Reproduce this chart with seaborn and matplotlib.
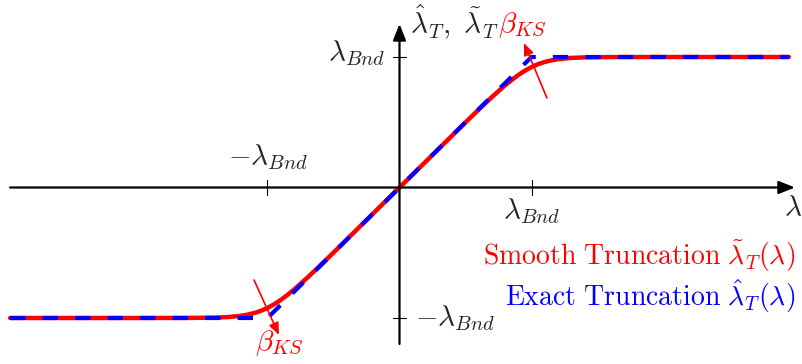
import matplotlib
matplotlib.use("Agg")
import matplotlib.pyplot as plt
import seaborn as sns
import pandas as pd

# Exact truncation: clipped to [-lambda_Bnd, lambda_Bnd]
lam_exact = [-2.95, -1.0, 1.0, 2.95]
trunc_exact = [-1.0, -1.0, 1.0, 1.0]

# Smooth (KS) truncation samples
lam_smooth = [-2.95, -2.0, -1.6, -1.4, -1.3, -1.2, -1.15, -1.1, -1.05, -1.0,
              -0.95, -0.9, -0.85, -0.8, -0.7, -0.6, -0.5, 0.0,
              0.5, 0.6, 0.7, 0.8, 0.85, 0.9, 0.95, 1.0,
              1.05, 1.1, 1.15, 1.2, 1.3, 1.4, 1.6, 2.0, 2.95]
trunc_smooth = [-1.0, -1.0, -0.9995, -0.997, -0.993, -0.983, -0.974, -0.962, -0.945, -0.923,
                -0.895, -0.862, -0.824, -0.783, -0.693, -0.597, -0.499, 0.0,
                0.499, 0.597, 0.693, 0.783, 0.824, 0.862, 0.895, 0.923,
                0.945, 0.962, 0.974, 0.983, 0.993, 0.997, 0.9995, 1.0, 1.0]

tick_vals = [-1.0, 1.0]

sns.set_style("white")
plt.rcParams["mathtext.fontset"] = "cm"
plt.rcParams["font.family"] = ["DejaVu Serif"]

fig = plt.figure(figsize=(8.03, 3.64), dpi=100)
ax = fig.add_axes([0, 0, 1, 1])
ax.set_xlim(-3.0265, 3.0568)
ax.set_ylim(-1.3525, 1.4368)
ax.axis("off")

RED = "#ff0000"
BLUE = "#0000ff"
FS = 20
FS_TICK = 21

# coordinate axes with arrow heads
arrow_kw = dict(arrowstyle="-|>,head_length=0.7,head_width=0.28", color="black",
                lw=1.6, shrinkA=0, shrinkB=0, mutation_scale=14)
ax.annotate("", xy=(2.996, 0), xytext=(-2.95, 0), arrowprops=arrow_kw)
ax.annotate("", xy=(0, 1.253), xytext=(0, -1.199), arrowprops=arrow_kw)

# ticks
for t in tick_vals:
    ax.plot([t, t], [-0.054, 0.054], color="black", lw=0.8)
    ax.plot([-0.053, 0.053], [t, t], color="black", lw=0.8)

df_s = pd.DataFrame({"lam": lam_smooth, "val": trunc_smooth})
df_e = pd.DataFrame({"lam": lam_exact, "val": trunc_exact})
sns.lineplot(data=df_s, x="lam", y="val", ax=ax, color=RED, lw=3.2,
             sort=False, estimator=None)
sns.lineplot(data=df_e, x="lam", y="val", ax=ax, color=BLUE, lw=3.0,
             sort=False, estimator=None, linestyle=(0, (3.7, 4.1)))

# tick labels
ax.text(-1.0, 0.234, r"$-\lambda_{Bnd}$", ha="center", va="center", fontsize=FS_TICK)
ax.text(1.0, -0.18, r"$\lambda_{Bnd}$", ha="center", va="center", fontsize=FS_TICK)
ax.text(2.98, -0.16, r"$\lambda$", ha="center", va="center", fontsize=FS_TICK)
ax.text(-0.11, 1.03, r"$\lambda_{Bnd}$", ha="right", va="center", fontsize=FS_TICK)
ax.text(0.117, -1.0, r"$-\lambda_{Bnd}$", ha="left", va="center", fontsize=FS_TICK)
ax.text(0.08, 1.415, r"$\hat{\lambda}_T,\ \tilde{\lambda}_T$", ha="left", va="top",
        fontsize=FS_TICK)

# beta_KS markers
small_arrow = dict(arrowstyle="-|>,head_length=0.6,head_width=0.25", color=RED,
                   lw=1.2, shrinkA=0, shrinkB=0, mutation_scale=12)
ax.annotate("", xy=(0.943, 1.107), xytext=(1.117, 0.686), arrowprops=small_arrow)
ax.annotate("", xy=(-0.913, -1.130), xytext=(-1.102, -0.709), arrowprops=small_arrow)
ax.text(0.746, 1.245, r"$\beta_{KS}$", ha="left", va="center", fontsize=FS_TICK, color=RED)
ax.text(-1.095, -1.19, r"$\beta_{KS}$", ha="left", va="center", fontsize=FS_TICK, color=RED)

# legend text
ax.text(2.996, -0.525, r"$\mathrm{Smooth\ Truncation}\ \tilde{\lambda}_T(\lambda)$",
        ha="right", va="center", fontsize=FS, color=RED)
ax.text(2.996, -0.83, r"$\mathrm{Exact\ Truncation}\ \hat{\lambda}_T(\lambda)$",
        ha="right", va="center", fontsize=FS, color=BLUE)

fig.savefig("out.png", dpi=100)
